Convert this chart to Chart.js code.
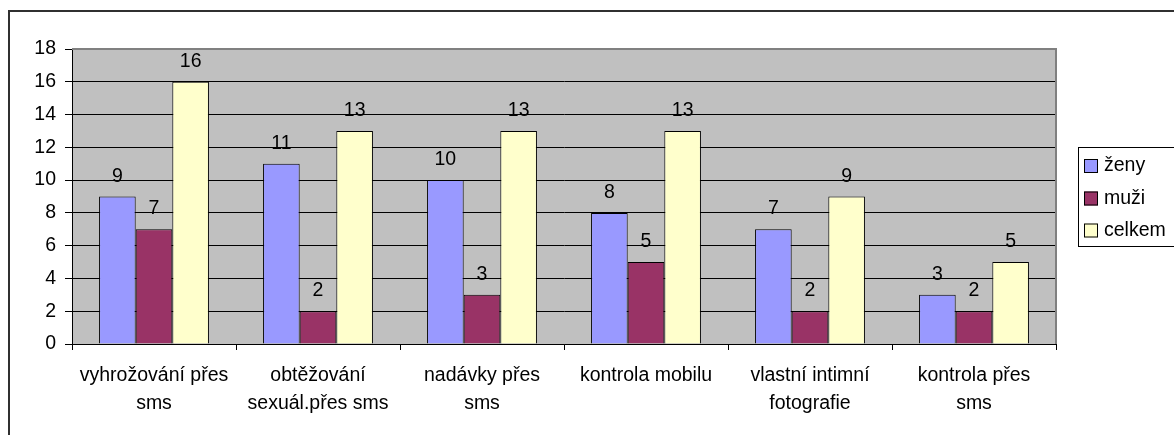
<!DOCTYPE html>
<html>
<head>
<meta charset="utf-8">
<script src="https://cdn.jsdelivr.net/npm/chart.js@4"></script>
<style>
html,body{margin:0;padding:0;background:#fff;}
canvas{display:block;}
</style>
</head>
<body>
<canvas id="c" width="1174" height="435"></canvas>
<script>
const categories = [
  ['vyhrožování přes', 'sms'],
  ['obtěžování', 'sexuál.přes sms'],
  ['nadávky přes', 'sms'],
  ['kontrola mobilu'],
  ['vlastní intimní', 'fotografie'],
  ['kontrola přes', 'sms']
];
const seriesNames = ['ženy', 'muži', 'celkem'];
const zeny = [9, 11, 10, 8, 7, 3];
const muzi = [7, 2, 3, 5, 2, 2];
const celkem = [16, 13, 13, 13, 9, 5];
const yTicks = [0, 2, 4, 6, 8, 10, 12, 14, 16, 18];

const FONT = "'Liberation Sans', Arial, sans-serif";
const FS = 19.5;

const framePlugin = {
  id: 'frame',
  beforeDraw(chart) {
    const ctx = chart.ctx, a = chart.chartArea;
    ctx.save();
    ctx.fillStyle = '#fff';
    ctx.fillRect(0, 0, chart.width, chart.height);
    ctx.fillStyle = '#303030';
    ctx.fillRect(8, 10, 2, chart.height);
    ctx.fillRect(8, 10, chart.width, 2);
    ctx.fillStyle = '#C0C0C0';
    ctx.fillRect(a.left, a.top, a.right - a.left, a.bottom - a.top);
    ctx.restore();
  },
  beforeDatasetsDraw(chart) {
    const ctx = chart.ctx, a = chart.chartArea;
    ctx.save();
    ctx.strokeStyle = '#808080';
    ctx.lineWidth = 2;
    ctx.beginPath();
    ctx.moveTo(a.left, a.top);
    ctx.lineTo(a.right, a.top);
    ctx.lineTo(a.right, a.bottom);
    ctx.stroke();
    ctx.restore();
  },
  afterDatasetsDraw(chart) {
    const ctx = chart.ctx;
    ctx.save();
    ctx.font = FS + 'px ' + FONT;
    ctx.fillStyle = '#000';
    ctx.textAlign = 'center';
    ctx.textBaseline = 'alphabetic';
    chart.data.datasets.forEach((ds, i) => {
      const meta = chart.getDatasetMeta(i);
      meta.data.forEach((el, j) => {
        ctx.fillText(String(ds.data[j]), el.x, el.y - 15);
      });
    });
    // legend
    const lx = 1078, ly = 147, lh = 99;
    ctx.strokeStyle = '#000';
    ctx.lineWidth = 1;
    ctx.strokeRect(lx + 0.5, ly + 0.5, 300, lh);
    ctx.textAlign = 'left';
    ctx.textBaseline = 'middle';
    const centers = [166, 198.5, 230.5];
    chart.data.datasets.forEach((ds, i) => {
      const cy = centers[i];
      ctx.fillStyle = ds.backgroundColor;
      ctx.fillRect(1084, cy - 7, 14, 14);
      ctx.strokeStyle = '#000';
      ctx.strokeRect(1084.5, cy - 6.5, 13, 13);
      ctx.fillStyle = '#000';
      ctx.fillText(ds.label, 1104, cy);
    });
    ctx.restore();
  }
};

const colors = ['#9999FF', '#993366', '#FFFFCC'];
const values = [zeny, muzi, celkem];

new Chart(document.getElementById('c'), {
  type: 'bar',
  data: {
    labels: categories,
    datasets: seriesNames.map((n, i) => ({
      label: n,
      data: values[i],
      backgroundColor: colors[i],
      borderColor: '#000',
      borderWidth: 1,
      categoryPercentage: 0.67,
      barPercentage: 1.0
    }))
  },
  options: {
    responsive: false,
    animation: false,
    devicePixelRatio: 1,
    layout: { padding: { top: 49, right: 118, left: 0, bottom: 0 } },
    plugins: { legend: { display: false }, tooltip: { enabled: false } },
    scales: {
      x: {
        offset: true,
        grid: { drawOnChartArea: false, drawTicks: true, tickLength: 6, color: '#000', offset: true },
        border: { display: true, color: '#000', width: 1 },
        ticks: {
          color: '#000', padding: 12, maxRotation: 0, autoSkip: false,
          font: { family: FONT, size: FS, lineHeight: 1.436 }
        },
        afterFit(s) { s.height = 91; }
      },
      y: {
        min: 0, max: 18,
        afterBuildTicks(s) { s.ticks = yTicks.map(v => ({ value: v })); },
        grid: { color: '#000', tickLength: 7, drawTicks: true },
        border: { display: true, color: '#000', width: 1 },
        ticks: {
          color: '#000', padding: 9,
          font: { family: FONT, size: FS }
        },
        afterFit(s) { s.width = 72; }
      }
    }
  },
  plugins: [framePlugin]
});
</script>
</body>
</html>
